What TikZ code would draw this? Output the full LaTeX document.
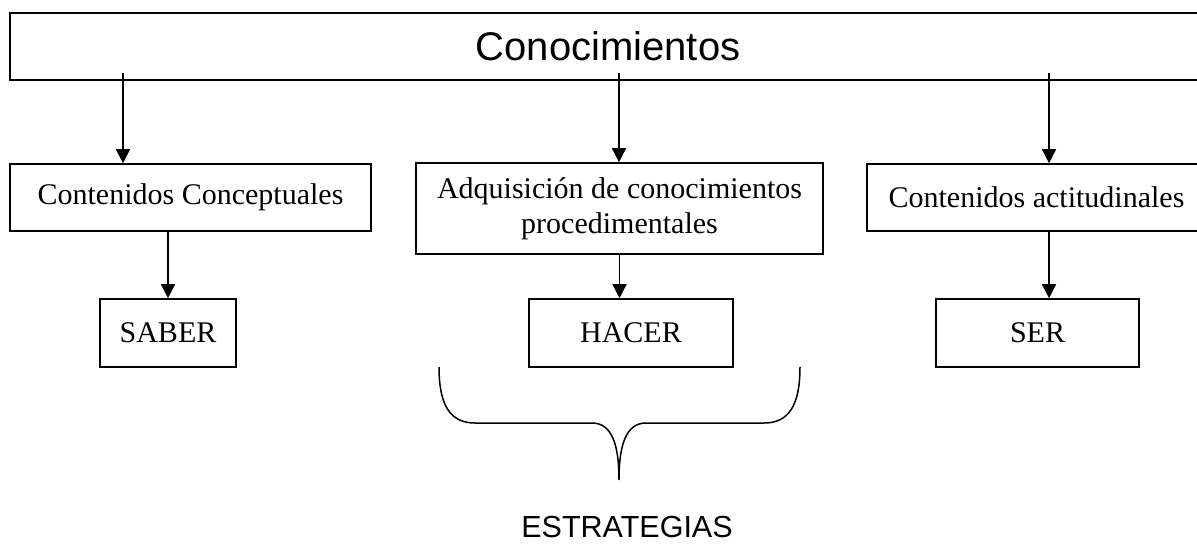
\documentclass[tikz,border=0pt]{standalone}
\usepackage{fontspec}
\setmainfont{Liberation Serif}
\newfontfamily\arialfont{Liberation Sans}
\usetikzlibrary{arrows.meta,positioning,calc}

\begin{document}
\begin{tikzpicture}
[
	x=1pt, y=-1pt,
	box/.style={rectangle,draw=black,line width=1.6pt,inner sep=0pt,align=center,
		font=\fontsize{30}{35}\selectfont},
	flecha/.style={line width=1.5pt,-{Triangle[length=14pt,width=14pt]}},
]
	\useasboundingbox (0,0) rectangle (1197,544);

	% nivel superior
	\node[box,minimum width=1196pt,minimum height=67pt,font=\arialfont\fontsize{40}{44}\selectfont] (conoc) at (608,46.5) {Conocimientos};

	% contenidos
	\node[box,minimum width=361pt,minimum height=67pt] (concep) at (190.5,197.5) {Contenidos Conceptuales};
	\node[box,minimum width=407pt,minimum height=91pt] (proced) at (619.5,208.5) {Adquisici\'on de conocimientos\\procedimentales};
	\node[box,minimum width=339pt,minimum height=67pt] (actit) at (1036.5,197.5) {Contenidos actitudinales};

	% saber, hacer, ser
	\node[box,minimum width=136pt,minimum height=68pt] (saber) at (168,333) {SABER};
	\node[box,minimum width=204pt,minimum height=68pt] (hacer) at (631,333) {HACER};
	\node[box,minimum width=203pt,minimum height=68pt] (ser) at (1037.5,333) {SER};

	\coordinate (t1) at (123,73);
	\coordinate (t2) at (619,73);
	\coordinate (t3) at (1049,73);

	\draw[flecha] (t1) -- (t1 |- concep.north);
	\draw[flecha] (t2) -- (t2 |- proced.north);
	\draw[flecha] (t3) -- (t3 |- actit.north);

	\draw[flecha] (concep.south -| saber.north) -- (saber.north);
	\draw[flecha] (proced.south) -- (proced.south |- hacer.north);
	\draw[flecha] (t3 |- actit.south) -- (t3 |- ser.north);

	% llave
	\coordinate (punta) at (619,480);
	\draw[line width=1.5pt] (439,367) .. controls (439,405) and (450,423) .. (475,423)
		-- (592,423) .. controls (612,423) and (619,445) .. (punta)
		.. controls (619,445) and (626,423) .. (646,423)
		-- (764,423) .. controls (789,423) and (800,405) .. (800,367);

	\node[font=\arialfont\fontsize{30.5}{34}\selectfont] (estrat) at (627,527) {ESTRATEGIAS};
\end{tikzpicture}
\end{document}
